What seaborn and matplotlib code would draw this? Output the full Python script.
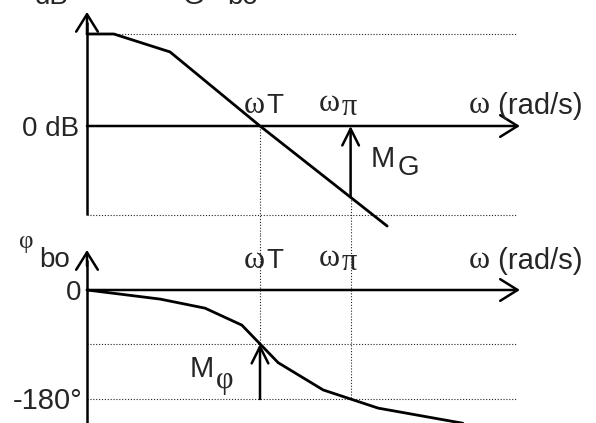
import numpy as np
import pandas as pd
import matplotlib
matplotlib.use("Agg")
import matplotlib.pyplot as plt
import seaborn as sns

# Asymptotic Bode sketch of the open loop G_bo (x axis: log-frequency units)
gain_w = [0.0, 0.62, 1.92, 4.0, 6.94]
gain_db = [40.0, 40.0, 32.2, 0.0, -43.5]
phase_w = [0.0, 1.69, 2.73, 3.58, 4.42, 5.46, 6.73, 8.69]
phase_deg = [0.0, -15.0, -30.0, -58.0, -120.0, -165.0, -195.0, -220.0]
gain_floor_db = -38.7

# crossover frequencies and margins, taken from the curves
w_T = float(np.interp(0.0, gain_db[::-1], gain_w[::-1]))
w_pi = float(np.interp(-180.0, phase_deg[::-1], phase_w[::-1]))
gain_at_wpi = float(np.interp(w_pi, gain_w, gain_db))
phase_at_wT = float(np.interp(w_T, phase_w, phase_deg))

sns.set_style("white")
W, H = 596, 423
fig = plt.figure(figsize=(W / 100, H / 100), dpi=100)

split = 235  # pixel row where the two panels meet
ax_g = fig.add_axes([0, 1 - split / H, 1, split / H])
ax_p = fig.add_axes([0, 0, 1, 1 - split / H])
XL = (-2.0116, 11.769)
ax_g.set_xlim(*XL)
ax_g.set_ylim(-47.39, 54.78)
ax_p.set_xlim(*XL)
ax_p.set_ylim(-219.6, 90.8)
for ax in (ax_g, ax_p):
    ax.set_axis_off()

LW_AX = 1.8
LW_CURVE = 2.0
DOT = dict(color="#222222", lw=0.8, linestyle=(0, (1, 1.6)), zorder=1)
X_END = 10.01
X_DOT = 9.92


def arrow(ax, start, end, hl=1.25, hw=0.78, lw=LW_AX):
    ax.annotate("", xy=end, xytext=start, xycoords="data",
                arrowprops=dict(arrowstyle=f"->,head_length={hl},head_width={hw}",
                                lw=lw, color="black", shrinkA=0, shrinkB=0,
                                mutation_scale=10),
                annotation_clip=False, zorder=4)


# ---- gain panel ----
df_g = pd.DataFrame({"w": gain_w, "G": gain_db})
sns.lineplot(data=df_g, x="w", y="G", ax=ax_g, color="black", lw=LW_CURVE,
             sort=False, zorder=3)
ax_g.plot([0, X_DOT], [gain_db[0], gain_db[0]], **DOT)
ax_g.plot([0, X_DOT], [gain_floor_db, gain_floor_db], **DOT)
ax_g.plot([w_T, w_T], [0, -47.39], **DOT)
ax_g.plot([w_pi, w_pi], [gain_at_wpi, -47.39], **DOT)
ax_g.plot([0, 0], [gain_floor_db, 45], color="black", lw=LW_AX, zorder=4,
          solid_capstyle="butt")
arrow(ax_g, (0, 40), (0, 49.6))
arrow(ax_g, (0, 0), (X_END, 0))
arrow(ax_g, (w_pi, gain_at_wpi), (w_pi, 0), hl=1.2, hw=0.6)

# ---- phase panel ----
df_p = pd.DataFrame({"w": phase_w, "phi": phase_deg})
sns.lineplot(data=df_p, x="w", y="phi", ax=ax_p, color="black", lw=LW_CURVE,
             sort=False, zorder=3)
ax_p.plot([0, X_DOT], [phase_at_wT, phase_at_wT], **DOT)
ax_p.plot([0, X_DOT], [-180, -180], **DOT)
ax_p.plot([w_T, w_T], [90.8, phase_at_wT], **DOT)
ax_p.plot([w_pi, w_pi], [90.8, -180], **DOT)
ax_p.plot([0, 0], [-219.6, 50], color="black", lw=LW_AX, zorder=4,
          solid_capstyle="butt")
arrow(ax_p, (0, 40), (0, 66.0))
arrow(ax_p, (0, 0), (X_END, 0))
arrow(ax_p, (w_T, -180), (w_T, phase_at_wT), hl=1.2, hw=0.6)

# ---- labels (pixel placement on the figure) ----
SANS = "Liberation Sans"
SERIF = "Liberation Serif"
FS = 20
GK = 23  # Greek letters


def txt(x, y, s, family=SANS, size=FS, ha="left", va="baseline"):
    fig.text(x / W, 1 - y / H, s, family=family, fontsize=size, ha=ha, va=va)


# axis title, running off the top edge
txt(35, 4, "dB")
txt(183, 4, "G")
txt(227, 4, "bo")

txt(79, 136, "0 dB", ha="right")
for yb in (113, 268):
    txt(244, yb, "ω", family=SERIF, size=GK)
    txt(266, yb, "T")
    txt(319, yb - 2, "ω", family=SERIF, size=GK)
    txt(342, yb + 2, "π", family=SERIF, size=GK - 1)
    txt(469, yb, "ω", family=SERIF, size=GK)
    txt(490, yb + 1, " (rad/s)", size=FS + 1)
txt(371, 167, "M", size=FS + 1)
txt(398, 175, "G")

txt(19, 248, "φ", family=SERIF, size=FS - 2)
txt(39, 267, "bo")
txt(81, 300, "0", ha="right")
txt(82, 409, "-180°", ha="right", size=FS + 1)
txt(190, 377, "M", size=FS + 1)
txt(216, 388, "φ", family=SERIF, size=GK - 1)

fig.savefig("out.png", dpi=100)
